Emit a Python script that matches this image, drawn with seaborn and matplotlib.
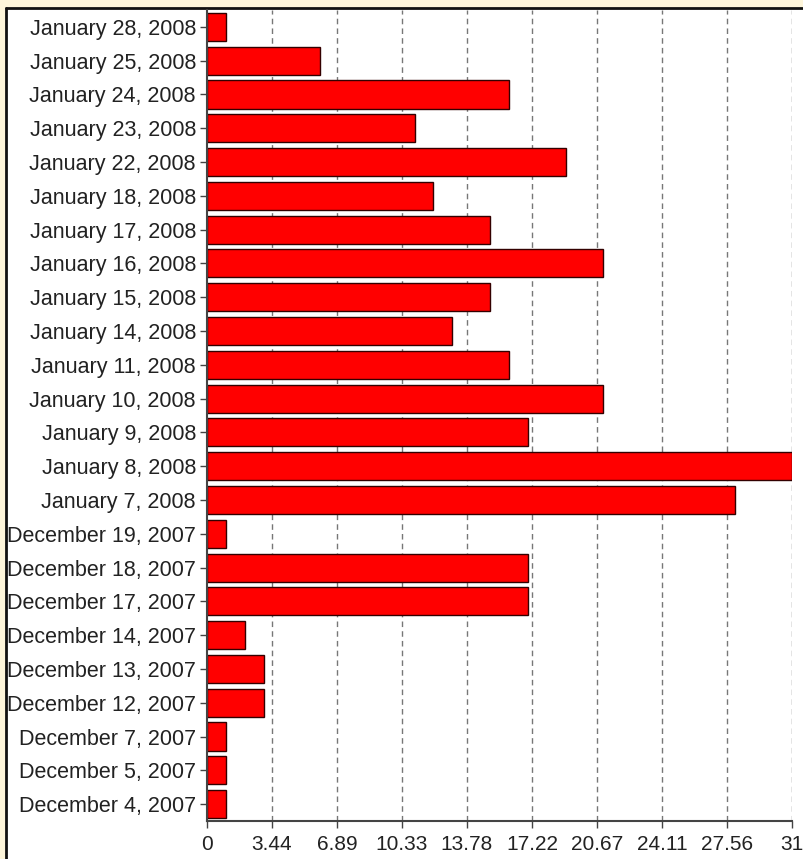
import matplotlib
matplotlib.use("Agg")
import matplotlib.pyplot as plt
import seaborn as sns
import pandas as pd
import numpy as np
from matplotlib.patches import Rectangle

dates = [
    "January 28, 2008", "January 25, 2008", "January 24, 2008", "January 23, 2008",
    "January 22, 2008", "January 18, 2008", "January 17, 2008", "January 16, 2008",
    "January 15, 2008", "January 14, 2008", "January 11, 2008", "January 10, 2008",
    "January 9, 2008", "January 8, 2008", "January 7, 2008", "December 19, 2007",
    "December 18, 2007", "December 17, 2007", "December 14, 2007", "December 13, 2007",
    "December 12, 2007", "December 7, 2007", "December 5, 2007", "December 4, 2007",
]
counts = [1, 6, 16, 11, 19, 12, 15, 21, 15, 13, 16, 21, 17, 31, 28, 1,
          17, 17, 2, 3, 3, 1, 1, 1]
x_max = 31
tick_labels = ["0", "3.44", "6.89", "10.33", "13.78", "17.22", "20.67", "24.11", "27.56", "31"]

df = pd.DataFrame({"date": dates, "count": counts})

sns.set_theme(style="white")
plt.rcParams["font.family"] = ["Liberation Sans", "DejaVu Sans"]

fig = plt.figure(figsize=(8.04, 8.59), dpi=100)
fig.patch.set_facecolor("#FDF5DA")

# white panel with dark window border on top and left
panel = Rectangle((6 / 804, -0.01), 1.0, 1 - 9 / 859 + 0.01, transform=fig.transFigure,
                  facecolor="white", edgecolor="none", zorder=-10)
fig.add_artist(panel)
fig.add_artist(plt.Line2D([6 / 804, 1], [1 - 8 / 859] * 2, transform=fig.transFigure,
                          color="#111111", lw=2, zorder=-5))
fig.add_artist(plt.Line2D([6 / 804] * 2, [0, 1 - 8 / 859], transform=fig.transFigure,
                          color="#111111", lw=2, zorder=-5))

ax = fig.add_axes([207 / 804, 1 - 821 / 859, (792 - 207) / 804, (821 - 10) / 859])
ax.set_facecolor("white")

sns.barplot(data=df, x="count", y="date", orient="h", color="#FF0000",
            edgecolor="#330000", linewidth=1.0, width=0.83, saturation=1, ax=ax)

ax.set_xlim(0, x_max)
ax.set_ylim(len(dates) - 0.5, -0.5)
ticks = np.linspace(0, x_max, len(tick_labels))
ax.set_xticks(ticks)
ax.set_xticklabels(tick_labels)
ax.set_xlabel("")
ax.set_ylabel("")

for t in ticks[1:]:
    ax.axvline(t, color="#777777", lw=1, ls=(0, (4, 3)), zorder=0)
ax.set_axisbelow(True)

for side in ["top", "right"]:
    ax.spines[side].set_visible(False)
for side in ["left", "bottom"]:
    ax.spines[side].set_color("#444444")
    ax.spines[side].set_linewidth(1.5)

ax.tick_params(axis="both", which="both", length=5, width=1, color="#444444",
               labelsize=15, labelcolor="#222222", direction="out", bottom=True, left=True)
ax.tick_params(axis="x", pad=5)
ax.tick_params(axis="y", pad=3, labelsize=15.5)

fig.savefig("out.png", dpi=100, facecolor=fig.get_facecolor())
